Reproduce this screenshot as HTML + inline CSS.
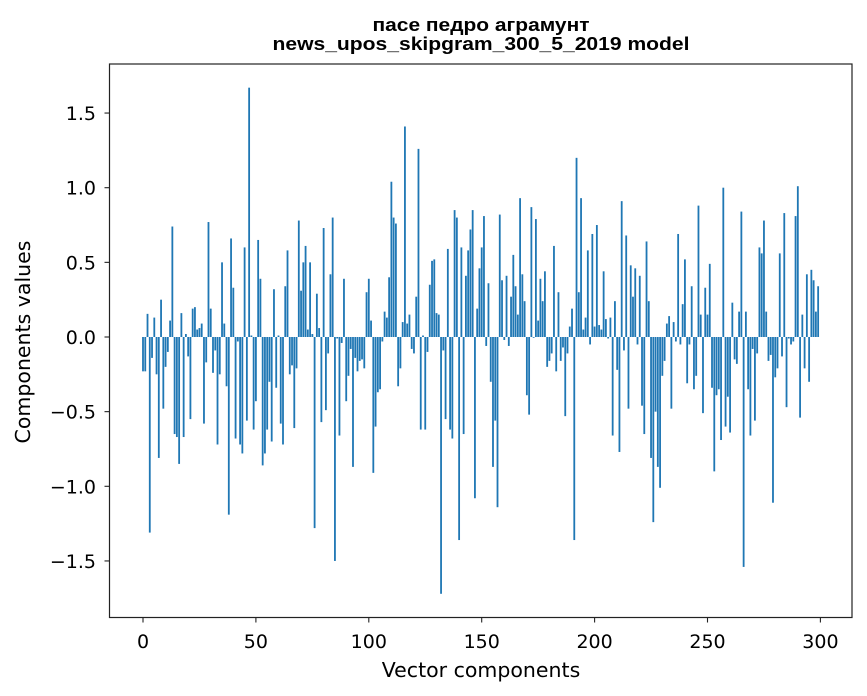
<!DOCTYPE html>
<html><head><meta charset="utf-8"><style>
body{margin:0;background:#fff;}
svg{display:block;font-family:"DejaVu Sans","Liberation Sans",sans-serif;}
.ttl{font-family:"Liberation Sans",Arial,sans-serif;font-weight:bold;}
</style></head><body>
<svg id="chart" width="867" height="696" viewBox="0 0 867 696" xmlns="http://www.w3.org/2000/svg">
<rect width="867" height="696" fill="#fff"/>
<text class="ttl" x="481" y="31" text-anchor="middle" font-size="18.5" textLength="217" lengthAdjust="spacingAndGlyphs">пасе педро аграмунт</text>
<text class="ttl" x="481" y="50" text-anchor="middle" font-size="18.5" textLength="417" lengthAdjust="spacingAndGlyphs">news_upos_skipgram_300_5_2019 model</text>
<g id="bars"></g>
<g id="xticks"></g>
<g id="yticks"></g>
<rect x="109.5" y="64" width="742.5" height="553.5" fill="none" stroke="#222" stroke-width="1.2"/>
<text x="481" y="677" text-anchor="middle" font-size="20.5">Vector components</text>
<text transform="translate(30,342) rotate(-90)" text-anchor="middle" font-size="20.5">Components values</text>
</svg>
<script>
const values = [
-0.23,-0.23,0.155,-1.31,-0.14,0.13,-0.25,-0.81,0.25,-0.48,
-0.2,-0.1,0.11,0.74,-0.65,-0.67,-0.85,0.16,-0.67,0.02,
-0.13,-0.55,0.19,0.2,0.05,0.06,0.09,-0.58,-0.17,0.77,
0.19,-0.24,-0.09,-0.72,-0.25,0.5,0.09,-0.33,-1.19,0.66,
0.33,-0.68,-0.03,-0.72,-0.78,0.6,-0.56,1.67,0.01,-0.62,
-0.43,0.65,0.39,-0.86,-0.78,-0.62,-0.3,-0.7,0.32,-0.34,
0.01,-0.58,-0.72,0.34,0.58,-0.25,-0.19,-0.61,-0.21,0.78,
0.31,0.5,0.61,0.05,0.5,0.02,-1.28,0.29,0.06,-0.57,
0.73,-0.49,-0.11,0.42,0.8,-1.5,-0.01,-0.66,-0.04,0.39,
-0.43,-0.26,-0.08,-0.87,-0.14,-0.23,-0.16,-0.15,-0.21,0.3,
0.39,0.11,-0.91,-0.6,-0.37,-0.35,-0.03,0.17,0.13,0.4,
1.04,0.8,0.76,-0.33,-0.21,0.1,1.41,0.09,0.15,-0.08,
-0.11,0.27,1.26,-0.62,0.01,-0.62,-0.1,0.35,0.51,0.52,
0.16,0.15,-1.72,-0.09,-0.55,0.59,-0.62,-0.68,0.85,0.8,
-1.36,0.6,-0.65,0.41,0.58,0.72,0.85,-1.08,0.19,0.46,
0.6,0.81,-0.06,0.36,-0.3,-0.87,-0.56,-1.14,0.82,0.38,
-0.02,0.41,-0.06,0.27,0.55,0.34,0.15,0.93,0.42,0.24,
-0.39,-0.52,0.87,-0.005,0.79,0.11,0.39,0.24,0.44,-0.2,
-0.16,-0.11,0.61,-0.23,0.3,-0.16,-0.07,-0.53,-0.11,0.07,
0.19,-1.36,1.2,0.3,0.93,0.05,0.13,0.58,-0.05,0.69,
0.07,0.75,0.08,0.05,0.44,0.12,-0.01,0.13,-0.66,0.24,
-0.22,-0.77,0.91,-0.09,0.68,-0.48,0.48,0.27,0.46,-0.05,
0.41,-0.46,-0.65,0.64,0.24,-0.81,-1.24,-0.5,-0.87,-1.01,
-0.26,-0.16,0.09,0.14,-0.48,0.1,-0.03,0.69,-0.05,0.22,
0.52,-0.31,-0.05,0.34,-0.35,-0.26,0.88,0.15,-0.51,0.33,
0.15,0.49,-0.34,-0.9,-0.39,-0.35,-0.69,1.0,-0.6,-0.4,
-0.64,0.23,-0.15,-0.18,0.17,0.84,-1.54,0.17,-0.35,-0.66,
-0.08,-0.56,-0.11,0.6,0.56,0.78,0.17,-0.16,-0.12,-1.11,
-0.27,-0.21,0.56,-0.13,0.83,-0.47,-0.01,-0.05,-0.03,0.81,
1.01,-0.54,0.15,-0.21,0.42,-0.3,0.45,0.38,0.17,0.34
];
const xTickValues = [0,50,100,150,200,250,300];
const xTickLabels = ["0","50","100","150","200","250","300"];
const yTickValues = [-1.5,-1.0,-0.5,0.0,0.5,1.0,1.5];
const yTickLabels = ["\u22121.5","\u22121.0","\u22120.5","0.0","0.5","1.0","1.5"];

const NS = "http://www.w3.org/2000/svg";
function xs(v){ return 143 + 2.258*v; }
function ys(v){ return 337 - 149.3*v; }
const bw = 0.8*2.258;

const bars = document.getElementById('bars');
values.forEach((v,i)=>{
  const r = document.createElementNS(NS,'rect');
  const y0 = ys(0), y1 = ys(v);
  r.setAttribute('x', xs(i)-bw/2);
  r.setAttribute('y', Math.min(y0,y1));
  r.setAttribute('width', bw);
  r.setAttribute('height', Math.max(Math.abs(y1-y0),0.3));
  r.setAttribute('fill', '#1f77b4');
  
  
  bars.appendChild(r);
});

const xg = document.getElementById('xticks');
xTickValues.forEach((v,i)=>{
  const l = document.createElementNS(NS,'line');
  l.setAttribute('x1', xs(v)); l.setAttribute('x2', xs(v));
  l.setAttribute('y1', 617.5); l.setAttribute('y2', 622.5);
  l.setAttribute('stroke', '#222'); l.setAttribute('stroke-width', '1.1');
  
  
  xg.appendChild(l);
  const t = document.createElementNS(NS,'text');
  t.setAttribute('x', xs(v)); t.setAttribute('y', 648);
  t.setAttribute('text-anchor', 'middle'); t.setAttribute('font-size', '19');
  t.textContent = xTickLabels[i];
  
  
  xg.appendChild(t);
});

const yg = document.getElementById('yticks');
yTickValues.forEach((v,i)=>{
  const l = document.createElementNS(NS,'line');
  l.setAttribute('x1', 104.5); l.setAttribute('x2', 109.5);
  l.setAttribute('y1', ys(v)); l.setAttribute('y2', ys(v));
  l.setAttribute('stroke', '#222'); l.setAttribute('stroke-width', '1.1');
  
  
  yg.appendChild(l);
  const t = document.createElementNS(NS,'text');
  t.setAttribute('x', 96); t.setAttribute('y', ys(v)+7);
  t.setAttribute('text-anchor', 'end'); t.setAttribute('font-size', '19');
  t.textContent = yTickLabels[i];
  
  
  yg.appendChild(t);
});
</script>
</body></html>
